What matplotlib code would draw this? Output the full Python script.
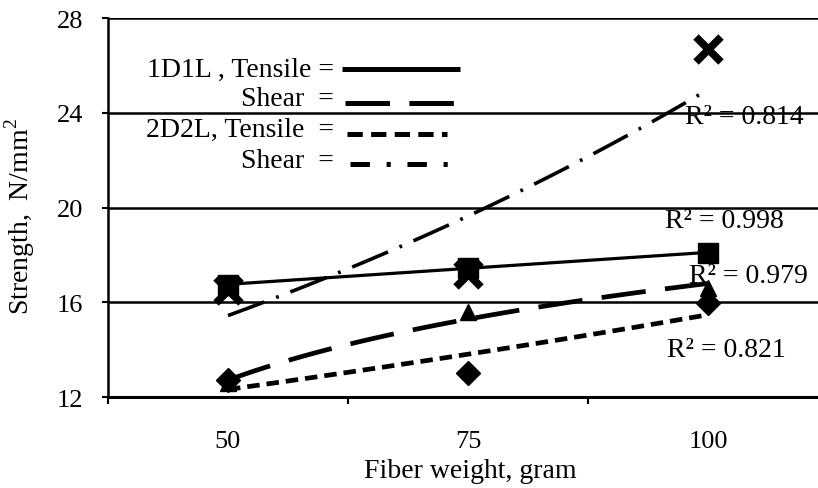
import numpy as np
import matplotlib
matplotlib.use('Agg')
import matplotlib.pyplot as plt

plt.rcParams['font.family'] = ['Liberation Serif', 'DejaVu Serif']
plt.rcParams['mathtext.fontset'] = 'custom'
plt.rcParams['mathtext.rm'] = 'Liberation Serif'
plt.rcParams['lines.scale_dashes'] = False

# data
fiber_weight = ['50', '75', '100']
tensile_1d1l = [16.75, 17.45, 18.1]
shear_1d1l = [12.6, 15.6, 16.6]
tensile_2d2l = [12.7, 13.0, 15.95]
shear_2d2l = [16.5, 17.2, 26.7]
r2_labels = ['R² = 0.998', 'R² = 0.979', 'R² = 0.821', 'R² = 0.814']

idx = np.arange(1, len(fiber_weight) + 1)
pos = idx - 1
xs = np.linspace(1, 3, 100)


def linear_trend(y):
    p = np.polyfit(idx, y, 1)
    return np.polyval(p, xs)


def log_trend(y):
    p = np.polyfit(np.log(idx), y, 1)
    return np.polyval(p, np.log(xs))


def exp_trend(y):
    p = np.polyfit(idx, np.log(y), 1)
    return np.exp(np.polyval(p, xs))


LONG = (32, 14)
SHORT = (9, 5)
DASHDOT = (28, 9, 2, 9)

fig = plt.figure(figsize=(8.18, 4.89), dpi=100)
ax = fig.add_axes([0.132, 0.186, 0.868, 0.775])

ax.plot(xs - 1, linear_trend(tensile_1d1l), color='black', lw=2.3)
ax.plot(xs - 1, log_trend(shear_1d1l), color='black', lw=3.4, dashes=LONG)
ax.plot(xs - 1, exp_trend(tensile_2d2l), color='black', lw=3.4, dashes=SHORT)
ax.plot(xs - 1, exp_trend(shear_2d2l), color='black', lw=2.6, dashes=DASHDOT)

ax.plot(pos, tensile_1d1l, 's', color='black', ms=14, zorder=5)
ax.plot(pos, shear_1d1l, '^', color='black', ms=12, zorder=5)
ax.plot(pos, tensile_2d2l, 'D', color='black', ms=12, zorder=5)
ax.plot(pos, shear_2d2l, 'x', color='black', ms=18, mew=5.5, zorder=5)

# R^2 labels
r2_x = [1.821, 1.921, 1.829, 1.904]
r2_y = [19.18, 16.85, 13.73, 23.57]
for lab, x, y in zip(r2_labels, r2_x, r2_y):
    ax.text(x, y, lab, fontsize=20, ha='left', va='baseline', zorder=6)

# hand-made legend
leg_rows = [
    ('1D1L , Tensile =', dict(lw=3.6)),
    ('Shear  =', dict(lw=3.6, dashes=LONG)),
    ('2D2L, Tensile  =', dict(lw=3.6, dashes=(11, 6))),
    ('Shear  =', dict(lw=3.6, dashes=(14, 12, 3, 12))),
]
text_y = [0.847, 0.770, 0.688, 0.606]
line_y = [0.865, 0.776, 0.694, 0.615]
line_x0 = [0.330, 0.334, 0.337, 0.341]
line_x1 = [0.496, 0.489, 0.477, 0.489]
for (label, style), ty, ly, x0, x1 in zip(leg_rows, text_y, line_y, line_x0, line_x1):
    ax.text(0.318, ty, label, transform=ax.transAxes, fontsize=20,
            ha='right', va='baseline')
    ax.plot([x0, x1], [ly, ly], transform=ax.transAxes, color='black',
            solid_capstyle='butt', dash_capstyle='butt', **style)

ax.set_ylim(12, 28)
ax.set_yticks([12, 16, 20, 24, 28])
ax.set_xlim(-0.5, 2.458)
ax.set_xticks(pos)
ax.set_xticklabels(fiber_weight)
ax.set_xticks([-0.5, 0.5, 1.5], minor=True)
ax.tick_params(axis='x', which='major', length=0, pad=24, labelsize=19)
ax.tick_params(axis='x', which='minor', length=5, width=1.5, direction='out')
ax.tick_params(axis='y', length=4, width=1.5, direction='out', pad=14, labelsize=19)

ax.grid(axis='y', color='black', lw=1.8)
ax.set_axisbelow(True)
for s in ['top', 'right']:
    ax.spines[s].set_visible(False)
ax.spines['left'].set_linewidth(1.8)
ax.spines['bottom'].set_linewidth(2.2)

ax.set_xlabel('Fiber weight, gram', fontsize=20)
ax.xaxis.set_label_coords(0.51, -0.16)
ax.set_ylabel('Strength,  N/mm$^2$', fontsize=20)
ax.yaxis.set_label_coords(-0.1, 0.478)

fig.savefig('out.png', dpi=100)
